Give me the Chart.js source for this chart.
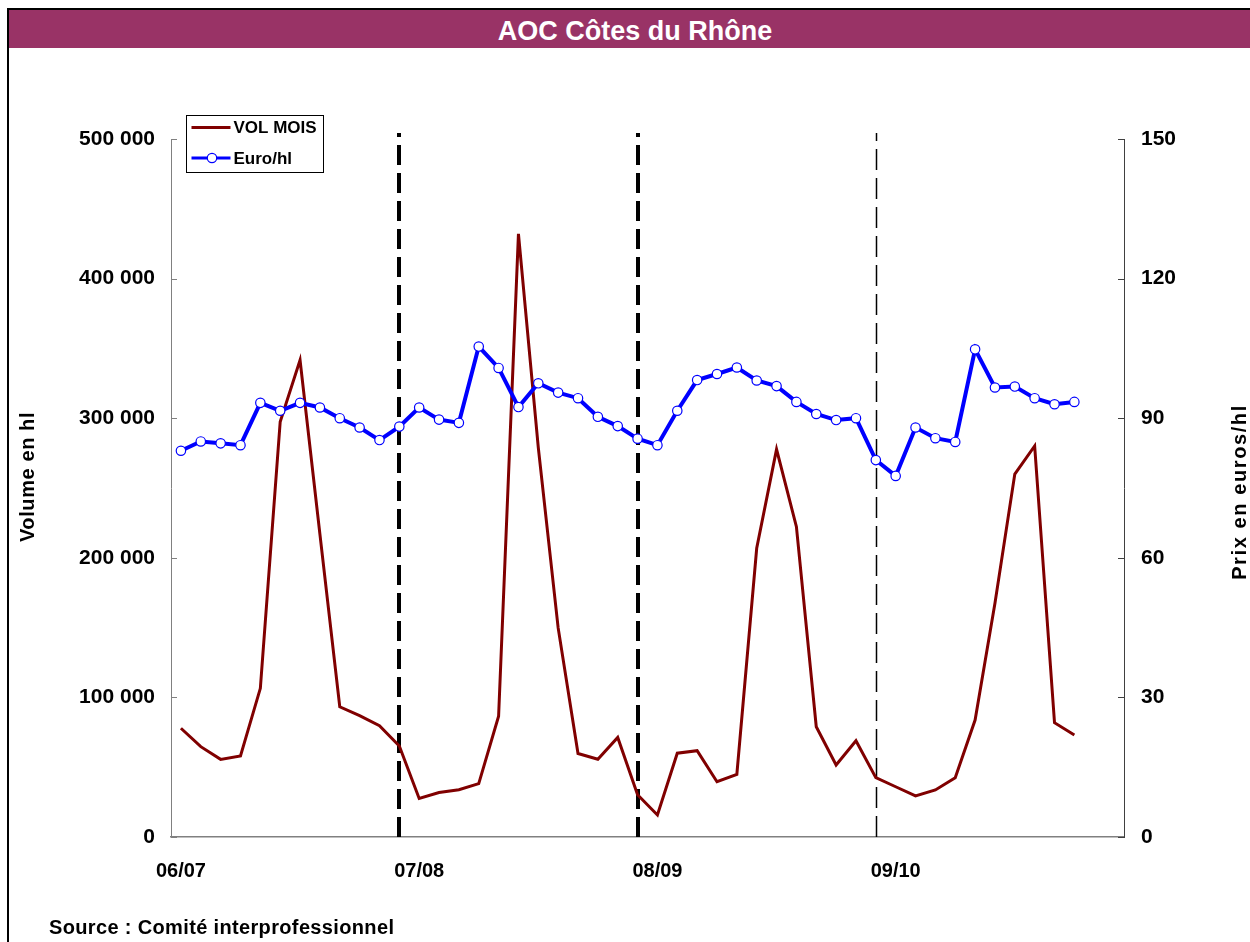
<!DOCTYPE html>
<html lang="fr">
<head>
<meta charset="utf-8">
<title>AOC Côtes du Rhône</title>
<script src="https://cdn.jsdelivr.net/npm/chart.js@4.4.1/dist/chart.umd.min.js"></script>
<style>
  html, body { margin: 0; padding: 0; background: #fff; }
  body { width: 1250px; height: 942px; position: relative; overflow: hidden; font-family: 'Liberation Sans', Arial, sans-serif; }
  #cadre { position: absolute; left: 7px; top: 8px; width: 1300px; height: 1000px; border: 2px solid #000; box-sizing: border-box; }
  #titre { position: absolute; left: 9px; top: 10px; width: 1252px; height: 38px; background: #993366; color: #fff; font: bold 27px 'Liberation Sans', Arial, sans-serif; text-align: center; line-height: 43px; }
  #source { position: absolute; left: 49px; top: 916px; font: bold 20px 'Liberation Sans', Arial, sans-serif; letter-spacing: 0.35px; line-height: 23px; color: #000; }
  #graphique { position: absolute; left: 0; top: 0; }
</style>
</head>
<body>
<div id="cadre"></div>
<div id="titre">AOC Côtes du Rhône</div>
<canvas id="graphique" width="1250" height="942"></canvas>
<div id="source">Source : Comité interprofessionnel</div>

<script>
// campagnes (août -> juillet), 12 mois chacune
const campagnes = ['06/07', '07/08', '08/09', '09/10']
const nbMois = 48

// volumes mensuels (hl)
const volMois = [
  77900, 64700, 55600, 58000, 106500, 297500, 341700, 217000, 93300, 86900, 79700, 65200,
  27600, 31900, 33900, 38200, 86500, 432000, 279000, 149800, 59800, 55700, 71300, 30300,
  15800, 60000, 61800, 39600, 44900, 206800, 277700, 222300, 79000, 51600, 69000, 42500,
  36000, 29400, 33700, 42500, 83800, 167400, 260000, 280100, 81900, 73100
]

// prix (euros/hl)
const euroHl = [
  83.0, 85.0, 84.6, 84.2, 93.3, 91.6, 93.3, 92.3, 90.0, 88.0, 85.3, 88.2,
  92.3, 89.7, 89.0, 105.4, 100.8, 92.4, 97.5, 95.5, 94.3, 90.3, 88.3, 85.6,
  84.2, 91.6, 98.2, 99.5, 100.9, 98.1, 96.9, 93.5, 90.9, 89.6, 90.0, 81.0,
  77.6, 88.0, 85.7, 84.9, 104.8, 96.6, 96.8, 94.3, 93.0, 93.5
]

// fins de campagne (index du mois)
const separations = [11, 23, 35]

const mois = Array.from({ length: nbMois }, (_, i) => (i % 12 === 0 ? campagnes[i / 12] : ''))

const police = "'Liberation Sans', Arial, sans-serif"
const fontGras = (size) => ({ family: police, size: size, weight: 'bold' })
const milliers = (v) => String(v).replace(/\B(?=(\d{3})+(?!\d))/g, ' ')

const decor = {
  id: 'decor',
  beforeDatasetsDraw(chart) {
    const { ctx, chartArea, scales: { x } } = chart
    ctx.save()
    ctx.strokeStyle = '#000'
    separations.forEach((idx, i) => {
      const epais = i < 2
      const px = Math.round(x.getPixelForValue(idx)) + (epais ? 0 : 0.5)
      ctx.beginPath()
      ctx.lineWidth = epais ? 4 : 1.5
      ctx.setLineDash(epais ? [20, 8] : [21, 8])
      ctx.moveTo(px, chartArea.bottom)
      ctx.lineTo(px, chartArea.top - 6)
      ctx.stroke()
    })
    ctx.restore()
  },
  afterDraw(chart) {
    const { ctx, chartArea, scales: { y, y1 } } = chart
    ctx.save()

    // petites graduations vers l'interieur
    ctx.lineWidth = 1
    ctx.strokeStyle = '#808080'
    y.ticks.forEach((t, i) => {
      const py = Math.round(y.getPixelForTick(i)) + 0.5
      ctx.beginPath()
      ctx.moveTo(chartArea.left, py)
      ctx.lineTo(chartArea.left + 6, py)
      ctx.stroke()
    })
    ctx.strokeStyle = '#404040'
    y1.ticks.forEach((t, i) => {
      const py = Math.round(y1.getPixelForTick(i)) + 0.5
      ctx.beginPath()
      ctx.moveTo(chartArea.right, py)
      ctx.lineTo(chartArea.right - 6, py)
      ctx.stroke()
    })

    // titres des axes (lus de bas en haut des deux cotes)
    ctx.fillStyle = '#000'
    ctx.font = `bold 20px ${police}`
    ctx.textAlign = 'center'
    ctx.textBaseline = 'middle'
    const milieu = (chartArea.top + chartArea.bottom) / 2
    ;[[y, chartArea.left - 143, milieu - 11, '0.6px'], [y1, chartArea.right + 116, milieu + 4, '1.6px']].forEach(([s, tx, ty, esp]) => {
      ctx.save()
      ctx.letterSpacing = esp
      ctx.translate(tx, ty)
      ctx.rotate(-Math.PI / 2)
      ctx.fillText(s.options.title.text, 0, 0)
      ctx.restore()
    })

    // legende
    const lx = chartArea.left + 15.5
    const ly = chartArea.top - 23.5
    ctx.fillStyle = '#fff'
    ctx.fillRect(lx, ly, 137, 57)
    ctx.lineWidth = 1
    ctx.strokeStyle = '#000'
    ctx.strokeRect(lx, ly, 137, 57)
    ctx.font = `bold 17px ${police}`
    ctx.textAlign = 'left'
    chart.data.datasets.forEach((ds, i) => {
      const ry = ly + 12 + i * 30.5
      ctx.beginPath()
      ctx.lineWidth = 3
      ctx.strokeStyle = ds.borderColor
      ctx.moveTo(lx + 5, ry)
      ctx.lineTo(lx + 44, ry)
      ctx.stroke()
      if (ds.pointRadius > 0) {
        ctx.beginPath()
        ctx.arc(lx + 25.5, ry, ds.pointRadius, 0, Math.PI * 2)
        ctx.fillStyle = ds.pointBackgroundColor
        ctx.fill()
        ctx.lineWidth = ds.pointBorderWidth
        ctx.strokeStyle = ds.pointBorderColor
        ctx.stroke()
      }
      ctx.fillStyle = '#000'
      ctx.fillText(ds.label, lx + 47, ry + 1)
    })
    ctx.restore()
  }
}

new Chart(document.getElementById('graphique'), {
  type: 'line',
  data: {
    labels: mois,
    datasets: [
      {
        label: 'VOL MOIS',
        data: volMois,
        yAxisID: 'y',
        borderColor: '#800000',
        borderWidth: 3,
        pointRadius: 0,
        tension: 0,
        fill: false,
        order: 1
      },
      {
        label: 'Euro/hl',
        data: euroHl,
        yAxisID: 'y1',
        borderColor: '#0000FF',
        borderWidth: 4,
        pointRadius: 4.7,
        pointBackgroundColor: '#FFFFFF',
        pointBorderColor: '#0000FF',
        pointBorderWidth: 1.2,
        tension: 0,
        fill: false,
        order: 0
      }
    ]
  },
  options: {
    responsive: false,
    animation: false,
    devicePixelRatio: 1,
    layout: {
      padding: { top: 139, bottom: 45, left: 0, right: 0 }
    },
    plugins: {
      legend: { display: false },
      tooltip: { enabled: false }
    },
    scales: {
      x: {
        type: 'category',
        offset: true,
        grid: { display: false, drawTicks: false },
        border: { display: true, color: '#808080', width: 1.5 },
        ticks: {
          autoSkip: false,
          maxRotation: 0,
          padding: 22,
          color: '#000',
          font: fontGras(20)
        },
        afterFit(scale) { scale.height = 60 }
      },
      y: {
        position: 'left',
        min: 0,
        max: 500000,
        grid: { display: false, drawTicks: false },
        border: { display: true, color: '#808080', width: 1 },
        title: { display: false, text: 'Volume en hl' },
        ticks: {
          stepSize: 100000,
          padding: 16,
          color: '#000',
          font: fontGras(21),
          callback: (value) => milliers(value)
        },
        afterFit(scale) { scale.width = 171 }
      },
      y1: {
        position: 'right',
        min: 0,
        max: 150,
        grid: { display: false, drawTicks: false },
        border: { display: true, color: '#404040', width: 1 },
        title: { display: false, text: 'Prix en euros/hl' },
        ticks: {
          stepSize: 30,
          padding: 17,
          color: '#000',
          font: fontGras(21)
        },
        afterFit(scale) { scale.width = 126 }
      }
    }
  },
  plugins: [decor]
})
</script>
</body>
</html>
